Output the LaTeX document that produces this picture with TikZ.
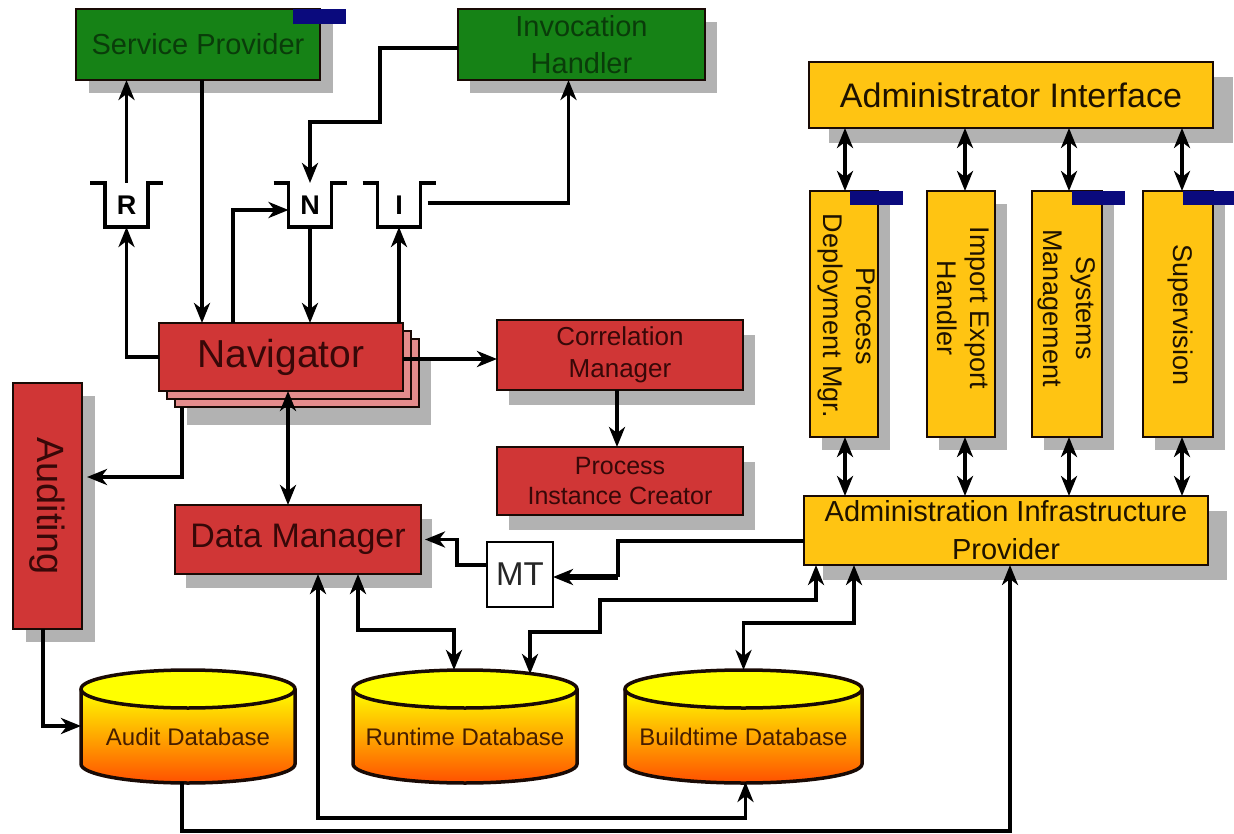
\documentclass[tikz,border=0pt]{standalone}
\usepackage{fontspec}
\setmainfont{Liberation Sans}
\usetikzlibrary{arrows.meta,calc,shadows}

\definecolor{gbox}{RGB}{22,130,22}
\definecolor{gtext}{RGB}{10,60,10}
\definecolor{rbox}{RGB}{208,54,54}
\definecolor{rback}{RGB}{228,140,140}
\definecolor{rtext}{RGB}{55,8,8}
\definecolor{ybox}{RGB}{255,196,18}
\definecolor{ytext}{RGB}{30,18,0}
\definecolor{navyc}{RGB}{10,10,125}
\definecolor{shadowgray}{RGB}{178,178,178}
\definecolor{dbtopc}{RGB}{255,255,0}
\definecolor{dbmid}{RGB}{255,196,0}
\definecolor{dbbot}{RGB}{255,80,0}
\definecolor{dbtext}{RGB}{70,30,0}
\definecolor{edgec}{RGB}{25,10,5}

\newcommand{\fsz}[2]{\fontsize{#1}{#2}\selectfont}
\newcommand{\dbcyl}[2]{%
 \shade[top color=dbtopc, middle color=dbmid, bottom color=dbbot] (#1-#2,689) -- (#1-#2,764) arc[start angle=180,end angle=360,x radius=#2pt,y radius=19pt] -- (#1+#2,689) -- cycle;
 \draw[line width=3.5pt, edgec] (#1-#2,689) -- (#1-#2,764) arc[start angle=180,end angle=360,x radius=#2pt,y radius=19pt] -- (#1+#2,689);
 \draw[line width=3.5pt, edgec, fill=dbtopc] (#1,689) ellipse[x radius=#2pt,y radius=19pt];
}

\begin{document}
\begin{tikzpicture}[x=1pt,y=-1pt,
 mybox/.style={draw=edgec, line width=2.5pt, inner sep=0pt, outer sep=0pt, align=center},
 shad/.style 2 args={drop shadow={shadow xshift=#1pt, shadow yshift=-#2pt, opacity=1, fill=shadowgray, draw=none}},
 greenbox/.style={mybox, fill=gbox, text=gtext, font=\fsz{29}{37}},
 redbox/.style={mybox, fill=rbox, text=rtext},
 yellowbox/.style={mybox, fill=ybox, text=ytext},
 queuebox/.style={inner sep=0pt, outer sep=0pt, minimum width=43pt, minimum height=44pt, font=\bfseries\fsz{27}{27}},
 qline/.style={line width=3.5pt, line join=miter},
 tabbox/.style={fill=navyc},
 dbbox/.style={inner sep=0pt, outer sep=0pt},
 dbtxt/.style={text=dbtext, font=\fsz{24}{24}},
 arr/.style={line width=3.5pt, -{Stealth[length=20pt,width=16pt,inset=6pt]}},
 dbl/.style={line width=3.5pt, {Stealth[length=20pt,width=16pt,inset=6pt]}-{Stealth[length=20pt,width=16pt,inset=6pt]}},
 vtxt/.style={text=ytext, rotate=-90, align=center, font=\fsz{27}{33}}
]
\useasboundingbox (0,0) rectangle (1234,834);
\fill[white] (0,0) rectangle (1234,834);

% green boxes
\node[greenbox, shad={13}{13}, minimum width=244pt, minimum height=71pt] (SP) at (198,44.5) {Service Provider};
\node[greenbox, shad={12}{13}, minimum width=247pt, minimum height=71pt] (IH) at (581.5,44.5) {Invocation\\Handler};

% navigator stack
\node[mybox, fill=rback, shad={12}{18}, minimum width=244pt, minimum height=68pt] (NavC) at (297,373) {};
\node[mybox, fill=rback, minimum width=244pt, minimum height=68pt] (NavB) at (289,365) {};
\node[redbox, minimum width=244pt, minimum height=68pt, font=\fsz{39}{39}] (Nav) at (281,357) {Navigator};

\node[redbox, shad={12}{15}, minimum width=246pt, minimum height=70pt, font=\fsz{26}{32}] (CM) at (620,355) {Correlation\\Manager};
\node[redbox, shad={12}{15}, minimum width=246pt, minimum height=68pt, font=\fsz{25}{30}] (PIC) at (620,481) {Process\\Instance Creator};
\node[redbox, shad={13}{13}, minimum width=69pt, minimum height=246pt] (Aud) at (47.5,506) {};
\node[text=rtext, rotate=-90, font=\fsz{38}{38}] (Audt) at (Aud.center) {Auditing};
\node[redbox, shad={11}{14}, minimum width=246pt, minimum height=69pt, font=\fsz{34}{34}] (DM) at (298,539.5) {Data Manager};
\node[mybox, draw=black, fill=white, minimum width=66pt, minimum height=65pt, font=\fsz{33}{33}, text=black!85] (MT) at (520,574.5) {MT};

% admin boxes
\node[yellowbox, shad={20}{15}, minimum width=404pt, minimum height=66pt, font=\fsz{34}{34}] (AI) at (1011,95) {Administrator Interface};
\node[yellowbox, shad={12}{13}, minimum width=68pt, minimum height=246pt] (PD) at (844,314) {};
\node[yellowbox, shad={12}{13}, minimum width=68pt, minimum height=246pt] (IE) at (961,314) {};
\node[yellowbox, shad={12}{13}, minimum width=70pt, minimum height=246pt] (SM) at (1067,314) {};
\node[yellowbox, shad={12}{13}, minimum width=70pt, minimum height=246pt] (SV) at (1178,314) {};
\node[vtxt] (PDt) at ([xshift=2pt,yshift=-2pt]PD.center) {Process\\Deployment Mgr.};
\node[vtxt] (IEt) at ([xshift=2pt,yshift=6pt]IE.center) {Import Export\\Handler};
\node[vtxt] (SMt) at ([yshift=6pt]SM.center) {Systems\\Management};
\node[vtxt] (SVt) at ([xshift=2pt,yshift=-1pt]SV.center) {Supervision};
\node[yellowbox, shad={19}{15}, minimum width=404pt, minimum height=69pt, font=\fsz{29}{38}] (AIP) at (1006,530.5) {Administration Infrastructure\\Provider};

% queues
\node[queuebox] (R) at (126.5,205) {R};
\node[queuebox] (N) at (310,205) {N};
\node[queuebox] (I) at (399,205) {I};
\foreach \q in {R,N,I}{
  \draw[qline] ($(\q.north west)+(-15,0)$) -- (\q.north west) -- (\q.south west) -- (\q.south east) -- (\q.north east) -- ++(15,0);
}

% databases
\node[dbbox, minimum width=214pt, minimum height=112pt] (ADB) at (188,726) {};
\node[dbbox, minimum width=224pt, minimum height=112pt] (RDB) at (465,726) {};
\node[dbbox, minimum width=237pt, minimum height=112pt] (BDB) at (743.5,726) {};
\dbcyl{188}{107}
\dbcyl{465}{112}
\dbcyl{743.5}{118.5}
\node[dbtxt] (ADBt) at (188,737) {Audit Database};
\node[dbtxt] (RDBt) at (465,737) {Runtime Database};
\node[dbtxt] (BDBt) at (743.5,737) {Buildtime Database};

% connectors: top area
\draw[arr] (R.north) -- (R.north |- SP.south);
\draw[arr] (Nav.west) -| (R.south);
\draw[arr] ([xshift=4pt]SP.south) -- ([xshift=4pt]SP.south |- Nav.north);
\draw[arr] ($(Nav.north west)+(74,0)$) |- ([yshift=-5pt]N.west);
\coordinate (ihbend) at (380,122);
\draw[arr] ([yshift=-3.5pt]IH.west) -| (ihbend) -| (N.north);
\draw[arr] (N.south) -- (N.south |- Nav.north);
\draw[arr] (I.south |- Nav.north) -- (I.south);
\draw[arr] ([xshift=7pt,yshift=2pt]I.east) -| ([xshift=-13pt]IH.south);

% navigator area
\draw[arr] ([yshift=-2pt]Nav.east) -- ([yshift=-2pt]Nav.east -| CM.west);
\draw[arr] ([xshift=-3pt]CM.south) -- ([xshift=-3pt]PIC.north);
\draw[arr] ($(NavC.south west)+(7,0)$) |- ([xshift=5pt,yshift=29pt]Aud.east);
\draw[dbl] ([xshift=7pt]Nav.south) -- ([xshift=7pt]Nav.south |- DM.north);
\draw[arr] ([xshift=-4.5pt]Aud.south) |- (ADB.west);

% MT
\coordinate (mtbend) at ($(MT.east)+(65,2.5)$);
\draw[line width=3.5pt] ([yshift=-10.5pt]AIP.west) -| (mtbend);
\draw[arr, line width=5.5pt] (mtbend) -- ([yshift=-2.5pt]MT.east);
\draw[arr] ([yshift=9.5pt]MT.west) -| ($(DM.east)+(36,0)$) -- ([xshift=4pt]DM.east);

% database links
\draw[dbl] ($(DM.south west)+(183,0)$) -- ++(0,56) -| ([xshift=-11pt]RDB.north);
\draw[dbl] ($(DM.south west)+(143,0)$) -- ++(0,244) -| ([xshift=2pt]BDB.south);
\draw[dbl] ($(RDB.north)+(65,4)$) -- ++(0,-42) -| ++(70,-32) -| ([xshift=-190pt]AIP.south);
\draw[dbl] (BDB.north) -- ++(0,-47) -| ([xshift=-152pt]AIP.south);
\draw[arr] ([xshift=-6pt]ADB.south) -- ++(0,49) -| ([xshift=4pt]AIP.south);

% admin double arrows
\draw[dbl] ([xshift=1pt]PD.north |- AI.south) -- ([xshift=1pt]PD.north);
\draw[dbl] ([xshift=4pt]IE.north |- AI.south) -- ([xshift=4pt]IE.north);
\draw[dbl] ([xshift=2pt]SM.north |- AI.south) -- ([xshift=2pt]SM.north);
\draw[dbl] ([xshift=4pt]SV.north |- AI.south) -- ([xshift=4pt]SV.north);
\draw[dbl] ([xshift=1pt]PD.south) -- ([xshift=1pt]PD.south |- AIP.north);
\draw[dbl] ([xshift=4pt]IE.south) -- ([xshift=4pt]IE.south |- AIP.north);
\draw[dbl] ([xshift=2pt]SM.south) -- ([xshift=2pt]SM.south |- AIP.north);
\draw[dbl] ([xshift=4pt]SV.south) -- ([xshift=4pt]SV.south |- AIP.north);

% blue tabs
\fill[tabbox] ($(SP.north east)+(-27,0)$) rectangle ++(53,15);
\fill[tabbox] ($(PD.north east)+(-28,0)$) rectangle ++(53,14);
\fill[tabbox] ($(SM.north east)+(-30,0)$) rectangle ++(53,14);
\fill[tabbox] ($(SV.north east)+(-30,0)$) rectangle ++(53,14);
\end{tikzpicture}
\end{document}
